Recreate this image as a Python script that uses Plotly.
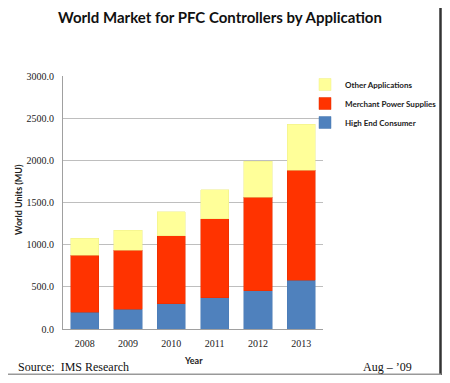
import plotly.graph_objects as go

years = ["2008", "2009", "2010", "2011", "2012", "2013"]
high_end = [198, 233, 301, 372, 455, 577]
merchant = [679, 700, 806, 937, 1107, 1305]
other = [202, 237, 285, 344, 430, 545]
y_ticks = [0, 500, 1000, 1500, 2000, 2500, 3000]

# the page body has an 8px margin; keep the figure inside the window
OFF = 8
W, H = 450 - OFF, 383 - 2 * OFF
L, R, T = 55, 127, 68
ph = 253
B = H - T - ph
pw = W - L - R

def px(x):  # x given in page pixels
    return (x - OFF - L) / pw

def py(y):  # y given in page pixels
    return (H - B - (y - OFF)) / ph

fig = go.Figure()
fig.add_bar(x=years, y=high_end, name="High End Consumer",
            marker=dict(color="#4F81BD", line=dict(color="#4A7AB3", width=0.5)))
fig.add_bar(x=years, y=merchant, name="Merchant Power Supplies",
            marker=dict(color="#FF3300", line=dict(color="#E02E00", width=0.5)))
fig.add_bar(x=years, y=other, name="Other Applications",
            marker=dict(color="#FFFF99", line=dict(color="#EEEE88", width=0.5)))

serif = "Liberation Serif"
sans = "Lato"

fig.update_layout(
    width=W, height=H,
    barmode="stack", bargap=0.35,
    margin=dict(l=L, r=R, t=T, b=B, autoexpand=False),
    paper_bgcolor="white", plot_bgcolor="white",
    showlegend=True,
    title=dict(text="<b>World Market for PFC Controllers by Application</b>",
               x=(220 - OFF) / W, xanchor="center", y=1 - 4 / H, yanchor="top",
               font=dict(family=sans, size=15, color="#111")),
    legend=dict(xref="container", yref="container", x=(305 - OFF) / W, xanchor="left",
                y=1 - (70 - OFF) / H, yanchor="top",
                font=dict(family=sans, size=8, color="#222", weight="bold"),
                itemwidth=30, traceorder="reversed", tracegroupgap=0,
                bgcolor="rgba(0,0,0,0)"),
    xaxis=dict(showgrid=False, showline=True, linecolor="#A0A0A0", linewidth=1,
               automargin=False, ticklabelstandoff=5,
               tickfont=dict(family=serif, size=10, color="#222"), ticks=""),
    yaxis=dict(range=[0, 3000], tickvals=y_ticks, tickformat=".1f",
               automargin=False,
               showgrid=True, gridcolor="#BEBEBE", gridwidth=1,
               showline=True, linecolor="#A0A0A0", linewidth=1, zeroline=False,
               ticklabelstandoff=6,
               tickfont=dict(family=serif, size=10, color="#222")),
    shapes=[
        dict(type="line", xref="paper", yref="paper", layer="above",
             x0=px(440.5), x1=px(440.5), y0=py(OFF), y1=py(376),
             line=dict(color="#333", width=2.5)),
        dict(type="line", xref="paper", yref="paper", layer="above",
             x0=px(OFF), x1=px(441), y0=py(374.5), y1=py(374.5),
             line=dict(color="#999", width=2)),
    ],
    annotations=[
        dict(text="<b>World Units (MU)</b>", xref="paper", yref="paper", x=px(18), y=py(200),
             xanchor="center", yanchor="middle", textangle=-90, showarrow=False,
             font=dict(family=sans, size=9, color="#222")),
        dict(text="<b>Year</b>", xref="paper", yref="paper", x=px(193), y=py(360),
             xanchor="center", yanchor="middle", showarrow=False,
             font=dict(family=sans, size=9, color="#222")),
        dict(text="Source:  IMS Research", xref="paper", yref="paper", x=px(16), y=py(367),
             xanchor="left", yanchor="middle", showarrow=False,
             font=dict(family=serif, size=12, color="#111")),
        dict(text="Aug \u2013 \u201909", xref="paper", yref="paper", x=px(361), y=py(367),
             xanchor="left", yanchor="middle", showarrow=False,
             font=dict(family=serif, size=12, color="#111")),
    ],
)

fig.write_html("out.html")
